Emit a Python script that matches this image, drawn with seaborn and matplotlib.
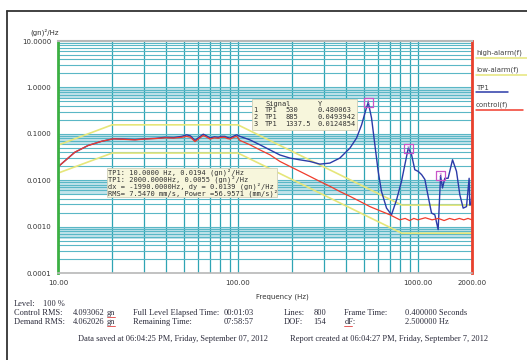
import matplotlib
matplotlib.use("Agg")
import matplotlib.pyplot as plt
from matplotlib.lines import Line2D
from matplotlib.patches import Rectangle
from matplotlib.ticker import LogLocator, NullFormatter, FixedLocator
import pandas as pd
import seaborn as sns

freq_tp1 = [10, 12.4, 14.7, 17.5, 20.3, 23, 26.8, 30.4, 35, 39.3, 44, 48.7, 51.9, 54.5,
            57.7, 61, 64.2, 67, 70, 74, 77.8, 81, 84.7, 87.5, 90.3, 94, 98.4, 102.6,
            116.6, 132.5, 150.6, 171.1, 194.5, 221, 251, 285.5, 324.4, 368.6, 419,
            456.4, 486.9, 514.3, 530, 553, 577, 602, 628, 670, 714, 762, 811, 847,
            885, 923, 962, 1004, 1049, 1094, 1136, 1191, 1243, 1297, 1337.5, 1371,
            1412, 1473, 1559, 1640, 1711, 1786, 1864, 1928, 1944, 1975, 2000]
psd_tp1 = [0.0194, 0.040, 0.056, 0.069, 0.078, 0.077, 0.075, 0.078, 0.080, 0.084, 0.083,
           0.088, 0.095, 0.090, 0.072, 0.085, 0.098, 0.090, 0.081, 0.086, 0.084, 0.088,
           0.088, 0.083, 0.081, 0.088, 0.095, 0.088, 0.074, 0.058, 0.045, 0.035, 0.030,
           0.0275, 0.0254, 0.0222, 0.0234, 0.030, 0.049, 0.081, 0.156, 0.33, 0.480,
           0.218, 0.058, 0.0155, 0.0057, 0.0025, 0.0018, 0.0038, 0.0094, 0.0215,
           0.0494, 0.0353, 0.0168, 0.0155, 0.0132, 0.0104, 0.0049, 0.00196, 0.0018,
           0.00086, 0.0125, 0.0068, 0.011, 0.011, 0.0276, 0.0155, 0.0049, 0.0025,
           0.0027, 0.011, 0.0029, 0.0030, 0.0055]

freq_ctrl = [10, 12.4, 14.7, 17.5, 20.3, 23, 26.8, 30.4, 35, 39.3, 44, 48.7, 51.9, 54.5,
             57.7, 61, 64.2, 67, 70, 74, 77.8, 81, 84.7, 87.5, 90.3, 94, 98.4, 102.6,
             116.6, 132.5, 150.6, 171.1, 194.5, 221, 251, 285.5, 324.4, 368.6, 419, 476,
             541, 615, 699, 794, 850, 900, 950, 1000, 1100, 1200, 1300, 1400, 1500,
             1600, 1700, 1800, 1900, 2000]
psd_ctrl = [0.0194, 0.040, 0.056, 0.069, 0.078, 0.076, 0.074, 0.077, 0.079, 0.082, 0.081,
            0.084, 0.088, 0.084, 0.068, 0.080, 0.092, 0.085, 0.077, 0.082, 0.080, 0.084,
            0.084, 0.079, 0.077, 0.083, 0.088, 0.072, 0.058, 0.045, 0.0353, 0.0254,
            0.0198, 0.0155, 0.0121, 0.0094, 0.0074, 0.0057, 0.0045, 0.0035, 0.0027,
            0.0022, 0.0018, 0.0014, 0.0015, 0.00135, 0.0015, 0.0014, 0.00155, 0.0014,
            0.0015, 0.00135, 0.0015, 0.0014, 0.0015, 0.0014, 0.0015, 0.0014]

freq_alarm = [10, 20, 100, 815, 2000]
high_alarm = [0.057, 0.156, 0.156, 0.0029, 0.0029]
low_alarm = [0.0142, 0.0385, 0.0385, 0.00072, 0.00072]

peak_freq = [530, 885, 1337.5]
peak_val = [0.480063, 0.0493942, 0.0124854]
peak_txt = ["0.480063", "0.0493942", "0.0124854"]

# light bands under each decade line
band_top = [1.0, 0.1, 0.01, 0.001]
band_bot = [0.56, 0.056, 0.005, 0.00055]

x_ticks = [10, 100, 1000, 2000]
y_ticks = [0.0001, 0.001, 0.01, 0.1, 1, 10]

cursor_lines = ["TP1: 10.0000 Hz, 0.0194 (gn)\u00b2/Hz",
                "TP1: 2000.0000Hz, 0.0055 (gn)\u00b2/Hz",
                "dx = -1990.0000Hz, dy = 0.0139 (gn)\u00b2/Hz",
                "RMS= 7.5470 mm/s, Power =56.9571 (mm/s)\u00b2"]

######### colours #########
c_high = "#e6e67a"
c_tp1 = "#2b3aa8"
c_ctrl = "#f03c2c"
c_vgrid = "#2ea4b4"
c_hgrid = "#5ab7c6"
c_band = "#c2e3ea"
c_peak = "#c855c8"

sns.set_style("white")
plt.rcParams["font.family"] = ["DejaVu Sans"]

W, H = 527, 360
fig = plt.figure(figsize=(W / 100, H / 100), dpi=100)

def fx(px):
    return px / W

def fy(py):
    return 1 - py / H

ax = fig.add_axes([fx(58), fy(273), (472 - 58) / W, (273 - 41) / H])
ax.set_xscale("log")
ax.set_yscale("log")
ax.set_xlim(10, 2000)
ax.set_ylim(0.0001, 10)

for t, b in zip(band_top, band_bot):
    ax.axhspan(b, t, color=c_band, lw=0, zorder=0)

ax.xaxis.set_major_locator(FixedLocator(x_ticks))
ax.xaxis.set_minor_locator(LogLocator(base=10, subs=range(2, 10), numticks=20))
ax.yaxis.set_major_locator(FixedLocator(y_ticks))
ax.yaxis.set_minor_locator(LogLocator(base=10, subs=range(2, 10), numticks=20))
ax.xaxis.set_minor_formatter(NullFormatter())
ax.yaxis.set_minor_formatter(NullFormatter())
ax.set_xticklabels([f"{v:.2f}" for v in x_ticks])
ax.set_yticklabels([f"{v:.4f}" for v in y_ticks])
ax.grid(True, which="both", axis="x", color=c_vgrid, lw=0.9)
ax.grid(True, which="both", axis="y", color=c_hgrid, lw=0.8)
ax.set_axisbelow(True)
ax.tick_params(axis="both", which="major", labelsize=5, colors="#333333", pad=2)
ax.tick_params(axis="y", which="major", length=3, color="#888888")
ax.tick_params(axis="x", which="major", length=0, pad=5)
ax.tick_params(which="minor", length=0)

sns.lineplot(x=freq_alarm, y=high_alarm, color=c_high, lw=1.2, ax=ax, estimator=None, sort=False)
sns.lineplot(x=freq_alarm, y=low_alarm, color=c_high, lw=1.2, ax=ax, estimator=None, sort=False)
sns.lineplot(x=freq_tp1, y=psd_tp1, color=c_tp1, lw=1.0, ax=ax, estimator=None, sort=False)
sns.lineplot(x=freq_ctrl, y=psd_ctrl, color=c_ctrl, lw=0.9, ax=ax, estimator=None, sort=False)
sns.scatterplot(x=peak_freq, y=peak_val, marker="s", s=42, facecolor="none",
                edgecolor=c_peak, linewidth=0.9, ax=ax, zorder=5)
for i, (f, v) in enumerate(zip(peak_freq, peak_val)):
    ax.text(f, v, str(i + 1), fontsize=3.5, color=c_peak, ha="center", va="center", zorder=6)

for side in ["left", "right", "top", "bottom"]:
    ax.spines[side].set_visible(True)
ax.spines["left"].set_color("#3cb043")
ax.spines["left"].set_linewidth(2)
ax.spines["right"].set_color("#e8402c")
ax.spines["right"].set_linewidth(2)
ax.spines["top"].set_color("#b8b8b8")
ax.spines["top"].set_linewidth(1.5)
ax.spines["bottom"].set_color("#b8b8b8")
ax.spines["bottom"].set_linewidth(1.2)

ax.set_xlabel("Frequency (Hz)", fontsize=5, color="#333333")
ax.xaxis.set_label_coords((282 - 58) / 414, -(293 - 273) / 232)
ax.set_ylabel("")
fig.text(fx(30), fy(32), "(gn)\u00b2/Hz", fontsize=5, color="#333333", va="center")

# frame around the panel
fig.add_artist(Line2D([fx(7), fx(7)], [0, fy(11)], color="#333333", lw=1.3))
fig.add_artist(Line2D([fx(7), 1], [fy(11), fy(11)], color="#333333", lw=1.3))

# legend on the right
leg_items = [("high-alarm(f)", c_high, 53, 527), ("low-alarm(f)", c_high, 70, 527),
             ("TP1", c_tp1, 87.5, 508), ("control(f)", c_ctrl, 105, 523)]
for name, col, yy, xend in leg_items:
    fig.text(fx(476), fy(yy), name, fontsize=5, color="#444444", va="center")
    fig.add_artist(Line2D([fx(476), fx(xend)], [fy(yy + 4.7), fy(yy + 4.7)], color=col, lw=1.1))

# cursor read-out box
mono = "DejaVu Sans Mono"
fig.add_artist(Rectangle((fx(107), fy(197)), (277 - 107) / W, (197 - 168) / H,
                         transform=fig.transFigure, facecolor="#f7f6dc",
                         edgecolor="#cfcfb8", lw=0.6, zorder=10))
for k, line in enumerate(cursor_lines):
    fig.text(fx(108), fy(172.5 + 7 * k), line, fontsize=5, family=mono,
             color="#333333", va="center", zorder=11)

# peak table box
fig.add_artist(Rectangle((fx(252), fy(130)), (357 - 252) / W, (130 - 99) / H,
                         transform=fig.transFigure, facecolor="#f7f6dc",
                         edgecolor="#cfcfb8", lw=0.6, zorder=10))
fig.text(fx(265), fy(104), "Signal", fontsize=5, family=mono, color="#333333", va="center", zorder=11)
fig.text(fx(318), fy(104), "Y", fontsize=5, family=mono, color="#333333", va="center", zorder=11)
for k, (f, t) in enumerate(zip(peak_freq, peak_txt)):
    yy = 110.5 + 7 * k
    fs = f"{f:g}"
    for xx, s in [(253.5, str(k + 1)), (265, "TP1"), (285, fs), (318, t)]:
        fig.text(fx(xx), fy(yy), s, fontsize=5, family=mono, color="#333333",
                 va="center", zorder=11)

# report text below the chart
serif = "Liberation Serif"
rows = [(14, 304, "Level:"), (43, 304, "100 %"),
        (14, 313.3, "Control RMS:"), (72.7, 313.3, "4.093062"), (106.7, 313.3, "gn"),
        (14, 322.3, "Demand RMS:"), (72.7, 322.3, "4.062026"), (106.7, 322.3, "gn"),
        (133.3, 313.3, "Full Level Elapsed Time:"), (223.3, 313.3, "00:01:03"),
        (133.3, 322.3, "Remaining Time:"), (223.3, 322.3, "07:58:57"),
        (284, 313.3, "Lines:"), (313.3, 313.3, "800"),
        (284, 322.3, "DOF:"), (313.3, 322.3, "154"),
        (344.3, 313.3, "Frame Time:"), (405, 313.3, "0.400000 Seconds"),
        (344.3, 322.3, "dF:"), (405, 322.3, "2.500000 Hz"),
        (78.3, 339.3, "Data saved at 06:04:25 PM, Friday, September 07, 2012"),
        (290, 339.3, "Report created at 06:04:27 PM, Friday, September 7, 2012")]
for xx, yy, s in rows:
    fig.text(fx(xx), fy(yy), s, fontsize=6, family=serif, color="#2a2a3a", va="center")
# red spell-check underline
for xx, yy, ww in [(106.7, 317, 8), (106.7, 326, 8), (344.3, 326, 8)]:
    fig.add_artist(Line2D([fx(xx), fx(xx + ww)], [fy(yy), fy(yy)], color="#e04040", lw=0.6))

fig.savefig("out.png", dpi=100)
